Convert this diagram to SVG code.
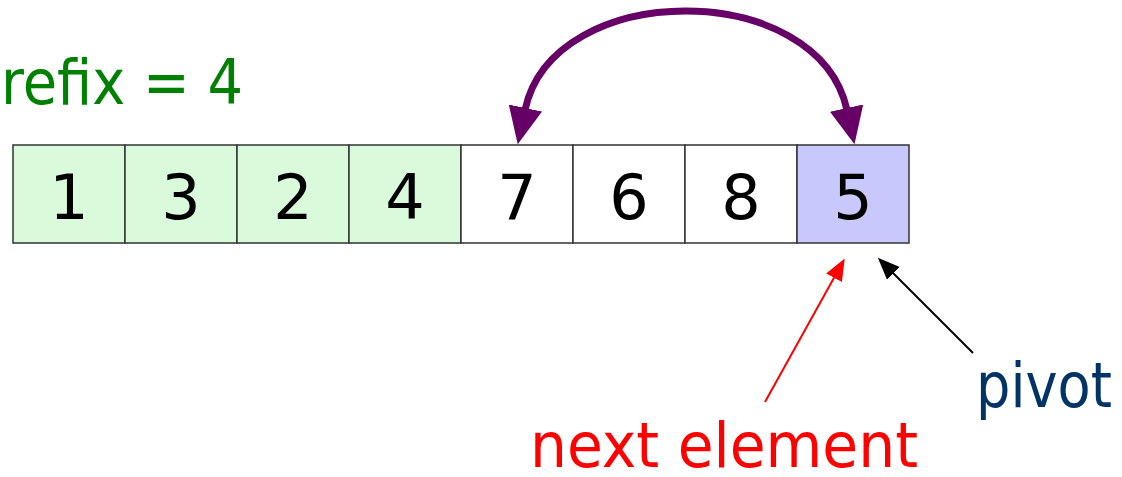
<svg xmlns="http://www.w3.org/2000/svg" width="1122" height="477" viewBox="0 0 1122 477">
<style>
.cell{stroke:#333;stroke-width:1.5}
.green{fill:#d9fadb}
.white{fill:#ffffff}
.blue{fill:#c8c8fd}
.num{font-family:"DejaVu Sans",sans-serif;font-size:62px;fill:#000;text-anchor:middle}
.lbl{font-family:"DejaVu Sans",sans-serif;font-size:62px}
</style>
<defs>
<marker id="swap" markerUnits="userSpaceOnUse" markerWidth="40" markerHeight="40" viewBox="0 0 40 40" refX="2" refY="20" orient="auto-start-reverse">
<path d="M0,3 L37,20 L0,37 Z" fill="#660066"/>
</marker>
<marker id="redhead" markerUnits="userSpaceOnUse" markerWidth="24" markerHeight="24" viewBox="0 0 24 24" refX="2" refY="12" orient="auto">
<path d="M0,3 L22,12 L0,21 Z" fill="#ff0000"/>
</marker>
<marker id="blackhead" markerUnits="userSpaceOnUse" markerWidth="24" markerHeight="24" viewBox="0 0 24 24" refX="2" refY="12" orient="auto">
<path d="M0,3 L22,12 L0,21 Z" fill="#000"/>
</marker>
</defs>
<rect width="1122" height="477" fill="#fff"/>
<g id="prefix-label"><text class="lbl" x="1" y="104" fill="#008000" textLength="242" lengthAdjust="spacingAndGlyphs">refix = 4</text></g>
<g id="cell-1"><rect class="cell green" x="13" y="145" width="112" height="98"/><text class="num" x="69" y="219">1</text></g>
<g id="cell-3"><rect class="cell green" x="125" y="145" width="112" height="98"/><text class="num" x="181" y="219">3</text></g>
<g id="cell-2"><rect class="cell green" x="237" y="145" width="112" height="98"/><text class="num" x="293" y="219">2</text></g>
<g id="cell-4"><rect class="cell green" x="349" y="145" width="112" height="98"/><text class="num" x="405" y="219">4</text></g>
<g id="cell-7"><rect class="cell white" x="461" y="145" width="112" height="98"/><text class="num" x="517" y="219">7</text></g>
<g id="cell-6"><rect class="cell white" x="573" y="145" width="112" height="98"/><text class="num" x="629" y="219">6</text></g>
<g id="cell-8"><rect class="cell white" x="685" y="145" width="112" height="98"/><text class="num" x="741" y="219">8</text></g>
<g id="cell-5"><rect class="cell blue" x="797" y="145" width="112" height="98"/><text class="num" x="853" y="219">5</text></g>
<g id="next-label"><text class="lbl" x="530" y="467" fill="#ff0000" textLength="388" lengthAdjust="spacingAndGlyphs">next element</text></g>
<g id="pivot-label"><text class="lbl" x="976" y="407" fill="#003366" textLength="136" lengthAdjust="spacingAndGlyphs">pivot</text></g>
<g id="connectors">
<path d="M525,110 C553,-22 818,-22 847,110" fill="none" stroke="#660066" stroke-width="7" marker-start="url(#swap)" marker-end="url(#swap)"/>
<line x1="765" y1="402" x2="835" y2="276" stroke="#ff0000" stroke-width="2" marker-end="url(#redhead)"/>
<line x1="973" y1="353" x2="892" y2="272" stroke="#000" stroke-width="2" marker-end="url(#blackhead)"/>
</g>
</svg>
